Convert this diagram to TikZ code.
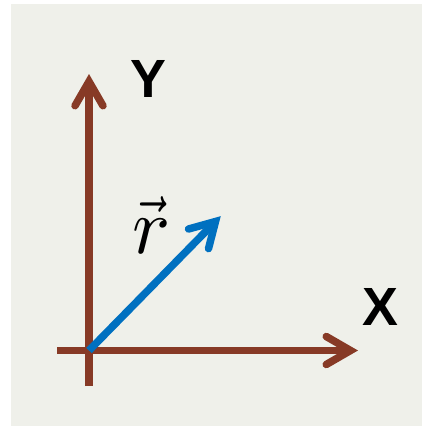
\documentclass[tikz,border=0pt]{standalone}
\usepackage{fontspec}
\setsansfont{Liberation Sans}
\usetikzlibrary{calc}
\definecolor{bg}{HTML}{EFF0EA}
\definecolor{axisbrown}{HTML}{873A26}
\definecolor{vecblue}{HTML}{0070C0}
\tikzset{
  shaft/.style={line width=7.5bp, line cap=butt},
  head/.style={line width=7.5bp, line cap=round, line join=miter, miter limit=10},
  axislabel/.style={inner sep=0pt, font=\sffamily\bfseries\fontsize{54}{54}\selectfont},
}
\begin{document}
\begin{tikzpicture}[x=1bp, y=-1bp]
  \useasboundingbox (0,0) rectangle (422,426);
  \fill[bg] (11,4) rectangle (422,426);
  % coordinates
  \coordinate (O) at (89,350.5);
  \coordinate (Xstart) at (57,350.5);
  \coordinate (Xtip) at (350.5,350.5);
  \coordinate (Ystart) at (89,386);
  \coordinate (Ytip) at (89,81.5);
  \coordinate (Rtip) at (215.5,221.5);
  % axes
  \draw[shaft, axisbrown] (Xstart) -- (Xtip);
  \draw[head, axisbrown] ($(Xtip)!28bp!30:(O)$) -- (Xtip) -- ($(Xtip)!28bp!-30:(O)$);
  \draw[shaft, axisbrown] (Ystart) -- (Ytip);
  \draw[head, axisbrown] ($(Ytip)!28bp!30:(O)$) -- (Ytip) -- ($(Ytip)!28bp!-30:(O)$);
  % vector r
  \draw[shaft, vecblue] (O) -- (Rtip);
  \draw[head, vecblue] ($(Rtip)!28bp!30:(O)$) -- (Rtip) -- ($(Rtip)!28bp!-30:(O)$);
  % labels
  \node[axislabel] (Ylab) at (148,79) {Y};
  \node[axislabel] (Xlab) at (380,307) {X};
  \node[inner sep=0pt, scale=8] (rlab) at (152,225)
    {\rlap{\kern0.02em\scalebox{0.75}[1]{$\vec{\phantom{r}}$}}$r$};
\end{tikzpicture}
\end{document}
